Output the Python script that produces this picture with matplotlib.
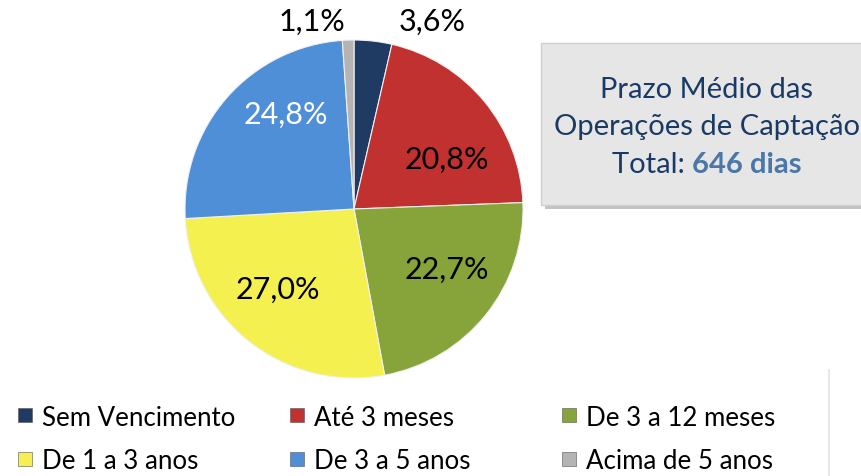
import matplotlib
matplotlib.use("Agg")
import matplotlib.pyplot as plt
from matplotlib.patches import FancyBboxPatch, Rectangle

categories = ["Sem Vencimento", "Até 3 meses", "De 3 a 12 meses",
              "De 1 a 3 anos", "De 3 a 5 anos", "Acima de 5 anos"]
values = [3.6, 20.8, 22.7, 27.0, 24.8, 1.1]
labels = ["3,6%", "20,8%", "22,7%", "27,0%", "24,8%", "1,1%"]
colors = ["#1f3a63", "#c0312f", "#86a43a", "#f4f04f", "#4f8fd8", "#b4b4b4"]
label_colors = ["black", "black", "black", "black", "white", "black"]
label_pos = [(432, 22), (447, 160), (447, 270), (278, 290), (286, 115), (312, 22)]

box_lines = ["Prazo Médio das", "Operações de Captação"]
box_total_prefix = "Total: "
box_total_value = "646 dias"

FONT = ["Lato", "DejaVu Sans"]
W, H = 862, 476
fig = plt.figure(figsize=(W / 100, H / 100), dpi=100)
ax = fig.add_axes([0, 0, 1, 1])

cx, cy, r = 354, 209, 169
wedges, _ = ax.pie(values, colors=colors, startangle=90, counterclock=False,
                   center=(cx, H - cy), radius=r,
                   wedgeprops=dict(edgecolor="#f0f0f0", linewidth=0.8))
ax.set_xlim(0, W)
ax.set_ylim(0, H)
ax.set_aspect("equal")
ax.axis("off")

for (x, y), t, c in zip(label_pos, labels, label_colors):
    ax.text(x, H - y, t, ha="center", va="center", fontsize=22, color=c, family=FONT)

# info box with shadow
shadow = FancyBboxPatch((545, H - 209), 330, 162, boxstyle="square,pad=0",
                        facecolor="#9a9a9a", edgecolor="none", alpha=0.6)
ax.add_patch(shadow)
box = FancyBboxPatch((541, H - 205), 330, 162, boxstyle="square,pad=0",
                     facecolor="#e6e6e6", edgecolor="#cfcfcf", linewidth=1)
ax.add_patch(box)
tc = "#1a3a66"
FS_BOX = 21
ax.text(707, H - 90, box_lines[0], ha="center", va="center", fontsize=FS_BOX, color=tc, family=FONT)
ax.text(707, H - 127, box_lines[1], ha="center", va="center", fontsize=FS_BOX, color=tc, family=FONT)

fig.canvas.draw()
rend = fig.canvas.get_renderer()
t1 = ax.text(0, H - 165, box_total_prefix, ha="left", va="center", fontsize=FS_BOX, color=tc, family=FONT)
t2 = ax.text(0, H - 165, box_total_value, ha="left", va="center", fontsize=FS_BOX, color="#4a76a8",
             fontweight="bold", family=FONT)
w1 = t1.get_window_extent(rend).width
w2 = t2.get_window_extent(rend).width
start = 707 - (w1 + w2) / 2
t1.set_x(start)
t2.set_x(start + w1)

# faint separator line
ax.plot([829, 829], [0, H - 370], color="#e8e8e8", linewidth=1.5)

# legend
leg_x = [18, 290, 562]
leg_y = [418, 462]
for i, (cat, col) in enumerate(zip(categories, colors)):
    row, colm = divmod(i, 3)
    x, y = leg_x[colm], leg_y[row]
    ax.add_patch(Rectangle((x, H - y - 4), 14, 14, facecolor=col, edgecolor="#555555", linewidth=0.4))
    ax.text(x + 24, H - y, cat, ha="left", va="center", fontsize=18.6, color="black", family=FONT)

fig.savefig("out.png", dpi=100)
